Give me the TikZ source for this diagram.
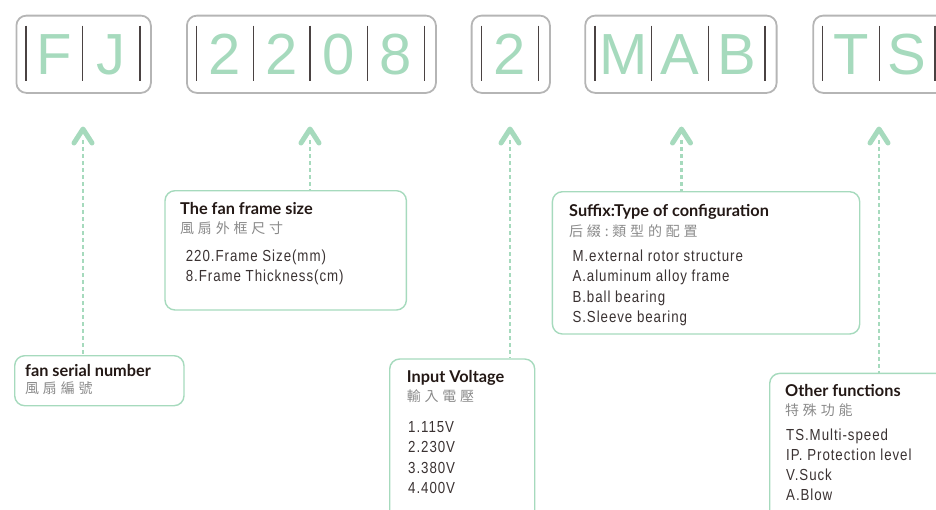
\documentclass[tikz,border=0pt]{standalone}
\usepackage{fontspec}
\setmainfont{Liberation Sans}
\newfontfamily\titlefont{Lato}
\newfontfamily\condfont{Liberation Sans}[FakeStretch=0.83,LetterSpace=6]
\newfontfamily\cjkfont{Noto Sans CJK TC}[LetterSpace=27]
\definecolor{mint}{HTML}{A6DABD}
\definecolor{boxgray}{HTML}{B5B5B5}
\definecolor{divgray}{HTML}{4A4242}
\definecolor{bodytxt}{HTML}{3A3232}
\definecolor{titletxt}{HTML}{231815}
\definecolor{cjkgray}{HTML}{8A8A8A}
\tikzset{
  codebox/.style={draw=boxgray, line width=1.8pt, rounded corners=10pt, anchor=north west, inner sep=0pt},
  divline/.style={draw=divgray, line width=1.4pt},
  bigletter/.style={anchor=base, text=mint, font=\fontsize{58}{58}\selectfont, inner sep=0pt},
  gbox/.style={draw=mint, line width=1.4pt, rounded corners=10pt, anchor=north west, inner sep=0pt},
  ttl/.style={anchor=base west, inner sep=0pt, text=titletxt, font=\titlefont\bfseries\fontsize{16.3}{18}\selectfont},
  cjk/.style={anchor=base west, inner sep=0pt, text=cjkgray, font=\cjkfont\fontsize{14}{16}\selectfont},
  body/.style={anchor=base west, inner sep=0pt, text=bodytxt, font=\condfont\fontsize{16}{20.2}\selectfont, align=left},
  chev/.style={draw=mint, line width=5pt, line cap=round, line join=round},
  dashline/.style={draw=mint, line width=2.4pt, dash pattern=on 4pt off 3pt}
}
\begin{document}
\begin{tikzpicture}[x=1pt,y=-1pt]
\useasboundingbox (0,0) rectangle (936,509);
\clip (0,0) rectangle (936,509);
% ---- code boxes ----
\node[codebox, minimum width=134.5pt, minimum height=77.3pt] (b1) at (15.5,14.7) {};
\node[codebox, minimum width=249pt, minimum height=77.3pt] (b2) at (186,14.7) {};
\node[codebox, minimum width=78.3pt, minimum height=77.3pt] (b3) at (470.7,14.7) {};
\node[codebox, minimum width=191.4pt, minimum height=77.3pt] (b4) at (584.3,14.7) {};
\node[codebox, minimum width=140pt, minimum height=77.3pt] (b5) at (812.3,14.7) {};
\foreach \x in {26,82.7,140, 196.7,253.3,310,367.3,424.3, 481.7,538.3, 595,651.7,708.3,765, 822.7,879.3,935}
  \draw[divline] (\x,25.7) -- (\x,81);
\node[bigletter] (lF) at (54.3,74) {F};
\node[bigletter] (lJ) at (111.3,74) {J};
\node[bigletter] (l21) at (225,74) {2};
\node[bigletter] (l22) at (281.7,74) {2};
\node[bigletter] (l0) at (338.7,74) {0};
\node[bigletter] (l8) at (395.8,74) {8};
\node[bigletter] (l2) at (510,74) {2};
\node[bigletter] (lM) at (623.3,74) {M};
\node[bigletter] (lA) at (680,74) {A};
\node[bigletter] (lB) at (736.7,74) {B};
\node[bigletter] (lT) at (851,74) {T};
\node[bigletter] (lS) at (907,74) {S};
% ---- description boxes ----
\node[gbox, minimum width=169.3pt, minimum height=50pt] (fsn) at (14,355) {};
\node[gbox, minimum width=241.4pt, minimum height=119.3pt] (ffs) at (164.3,190) {};
\node[gbox, minimum width=145pt, minimum height=170pt] (iv) at (389,358.3) {};
\node[gbox, minimum width=307.3pt, minimum height=142.3pt] (suf) at (551.7,191) {};
\node[gbox, minimum width=190pt, minimum height=160pt] (oth) at (769,372.7) {};
% texts
\node[ttl] (t1) at (25,376) {fan serial number};
\node[cjk] (c1) at (25,393.5) {風扇編號};
\node[ttl] (t2) at (180,214.3) {The fan frame size};
\node[cjk] (c2) at (180,233) {風扇外框尺寸};
\node[body] (d2a) at (185.7,261.7) {220.Frame Size(mm)};
\node[body] (d2b) at (185.7,281.7) {8.Frame Thickness(cm)};
\node[ttl] (t3) at (406.7,382.3) {Input Voltage};
\node[cjk] (c3) at (406.7,401) {輸入電壓};
\node[body] (d3a) at (408,432.3) {1.115V};
\node[body] (d3b) at (408,452.5) {2.230V};
\node[body] (d3c) at (408,473) {3.380V};
\node[body] (d3d) at (408,493.2) {4.400V};
\node[ttl] (t4) at (569,216) {Suffix:Type of configuration};
\node[cjk] (c4) at (569,236.7) {后綴:類型的配置};
\node[body] (d4a) at (572.3,261.7) {M.external rotor structure};
\node[body] (d4b) at (572.3,281.9) {A.aluminum alloy frame};
\node[body] (d4c) at (572.3,302.1) {B.ball bearing};
\node[body] (d4d) at (572.3,322.3) {S.Sleeve bearing};
\node[ttl] (t5) at (785,396) {Other functions};
\node[cjk] (c5) at (785,415) {特殊功能};
\node[body] (d5a) at (786,440) {TS.Multi-speed};
\node[body] (d5b) at (786,460.2) {IP. Protection level};
\node[body] (d5c) at (786,480.6) {V.Suck};
\node[body] (d5d) at (786,500.8) {A.Blow};
% ---- arrows ----
\coordinate (a1) at (83,129);
\coordinate (a2) at (310,129);
\coordinate (a3) at (510,129);
\coordinate (a4) at (681.5,129);
\coordinate (a5) at (879,129);
\foreach \a in {a1,a2,a3,a4,a5}
  \draw[chev] (\a) ++(-9,14) -- (\a) -- ++(9,14);
\draw[dashline] (a1) ++(0,11) -- (fsn.north -| a1);
\draw[dashline] (a2) ++(0,11) -- (ffs.north -| a2);
\draw[dashline] (a3) ++(0,11) -- (iv.north -| a3);
\draw[dashline] (a4) ++(0,11) -- (suf.north -| a4);
\draw[dashline] (a5) ++(0,11) -- (oth.north -| a5);
\end{tikzpicture}
\end{document}
